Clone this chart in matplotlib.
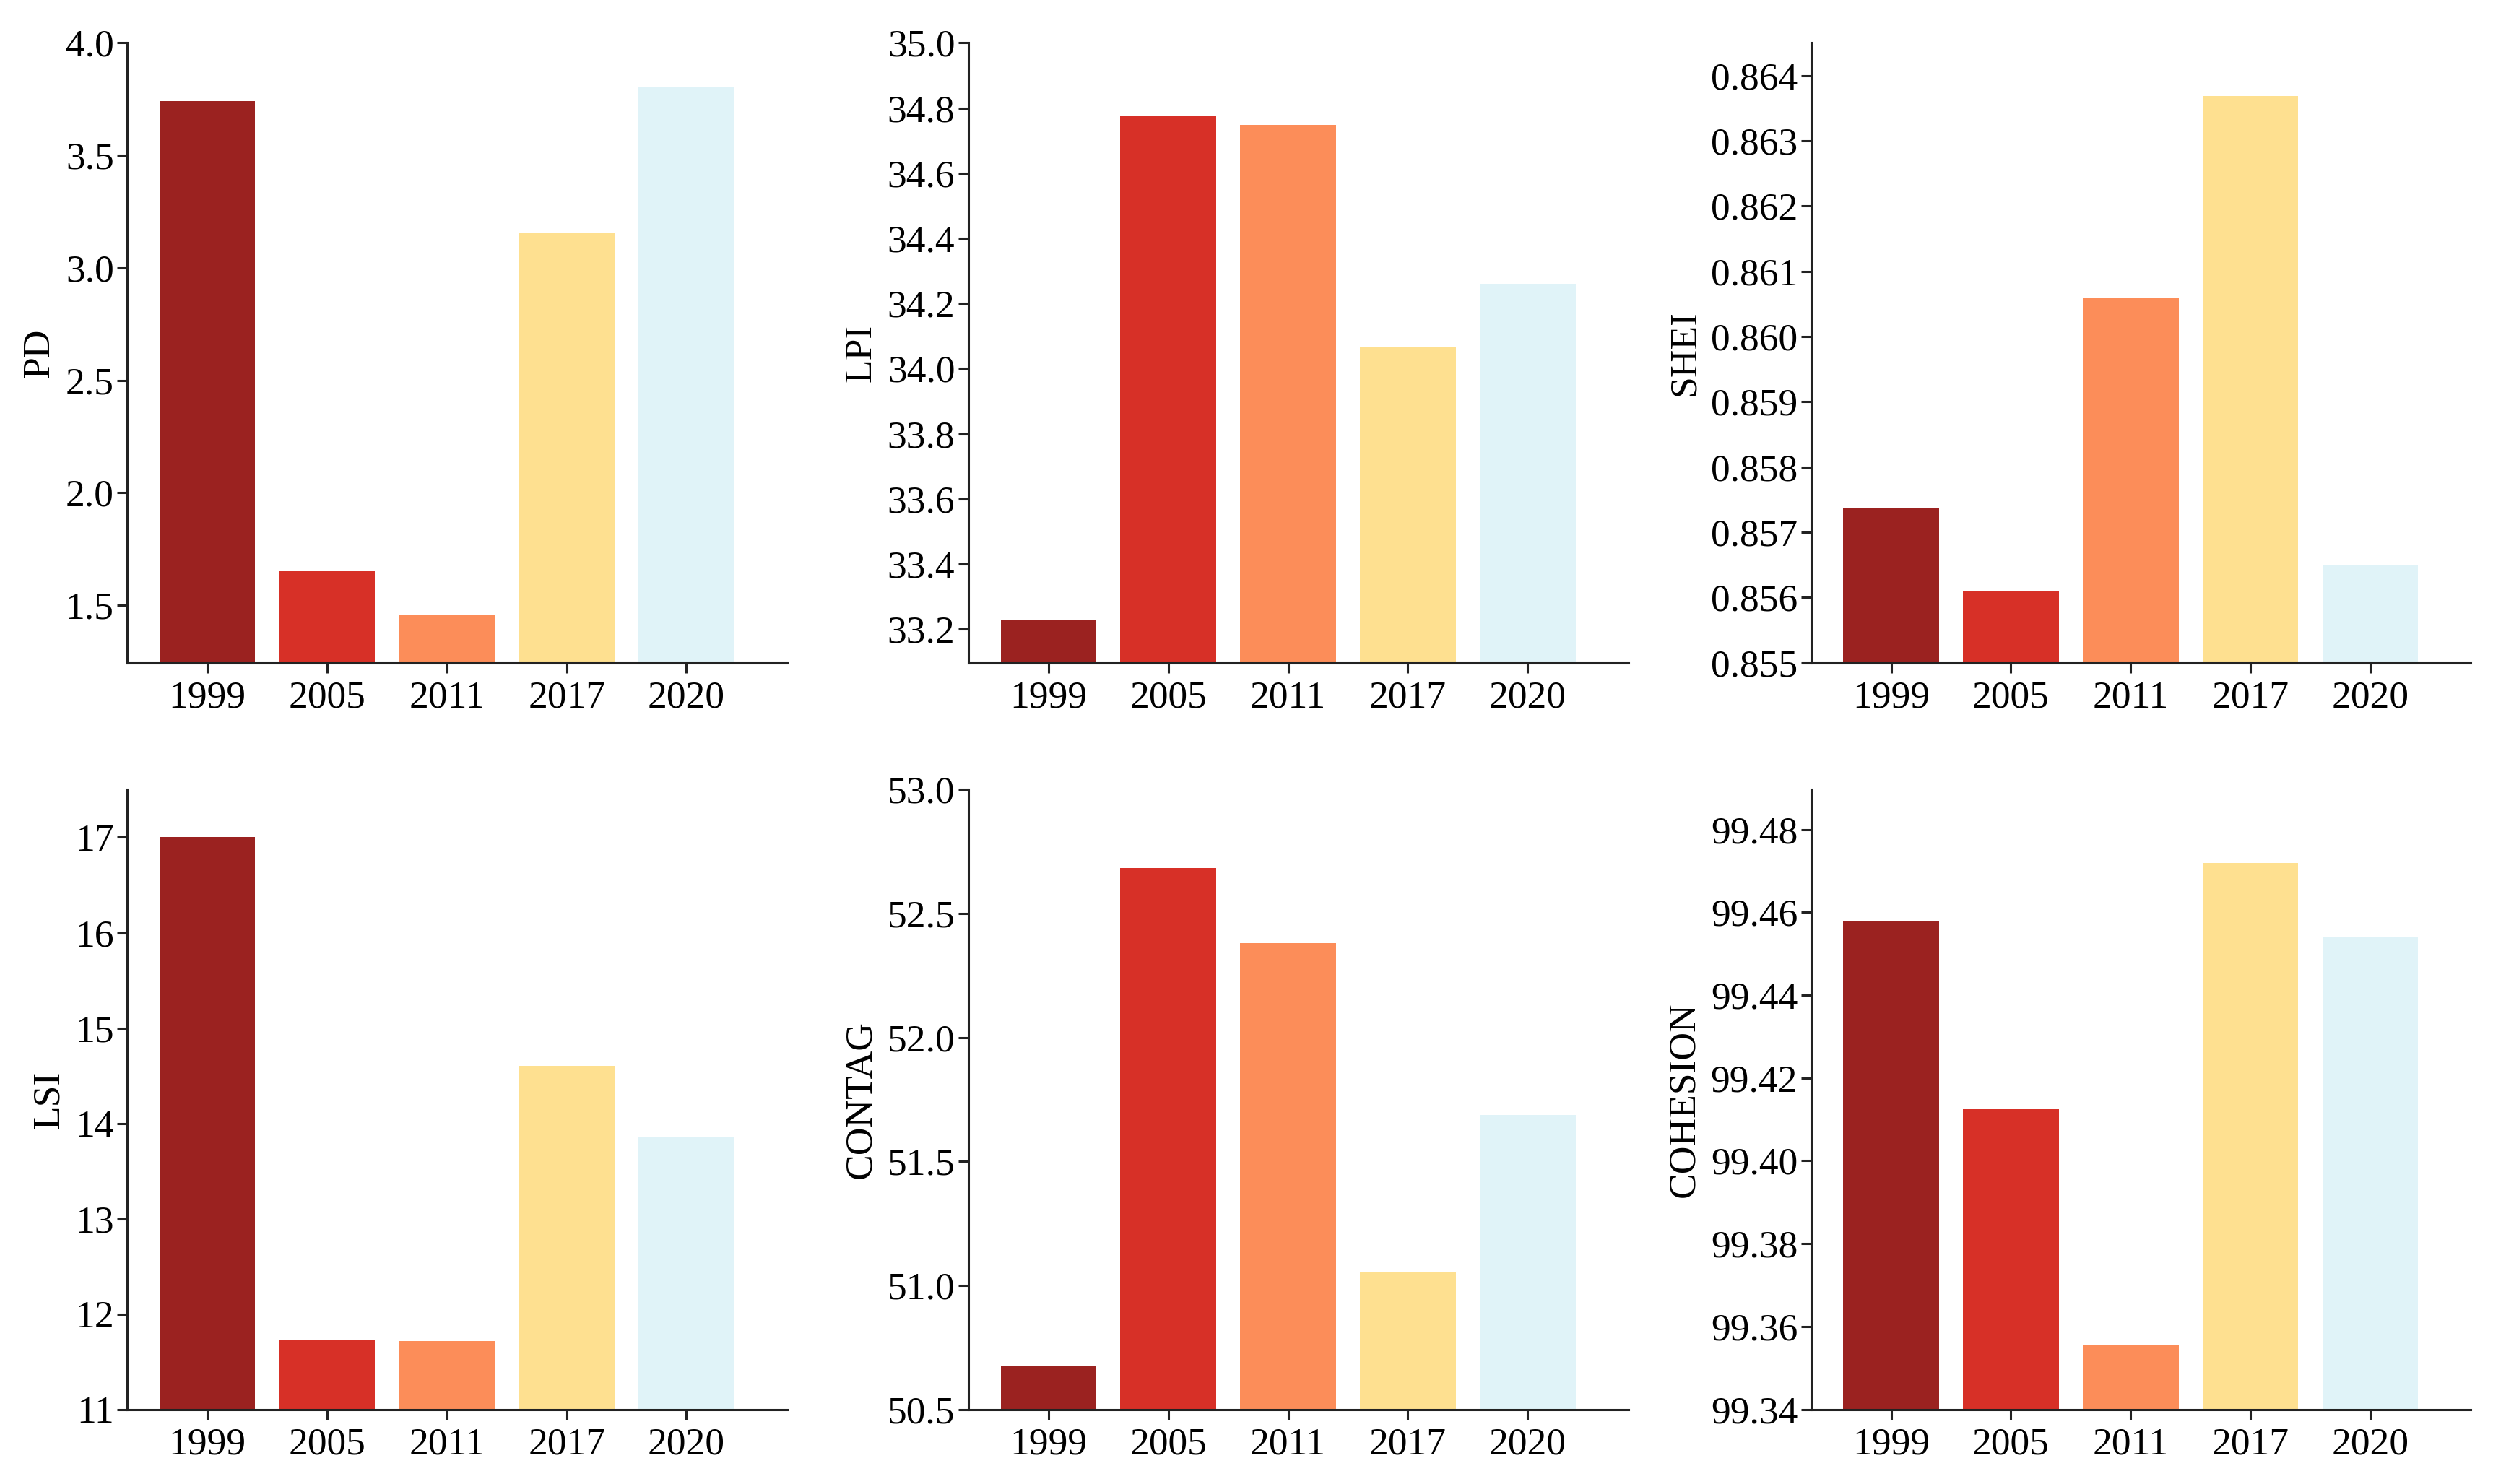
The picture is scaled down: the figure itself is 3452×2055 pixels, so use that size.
#!/usr/bin/env python3
"""Six bar panels of landscape metrics for five years."""

import matplotlib
matplotlib.use('Agg')
from matplotlib import pyplot as plt
from matplotlib.ticker import MultipleLocator, FormatStrFormatter


YEARS = ['1999', '2005', '2011', '2017', '2020']
COLORS = ['#9b2220', '#d73027', '#fc8d59', '#fee090', '#e0f3f8']

PD = [3.74, 1.65, 1.455, 3.155, 3.805]
LPI = [33.23, 34.778, 34.749, 34.068, 34.26]
SHEI = [0.85738, 0.85609, 0.86059, 0.86369, 0.8565]
LSI = [17.0, 11.73, 11.72, 14.60, 13.85]
CONTAG = [50.677, 52.684, 52.381, 51.053, 51.687]
COHESION = [99.458, 99.4124, 99.3554, 99.4719, 99.4539]

# name, values, y limits, tick step, tick format
PANELS = [
    ('PD', PD, (1.245, 4.0), 0.5, '%.1f'),
    ('LPI', LPI, (33.097, 35.0), 0.2, '%.1f'),
    ('SHEI', SHEI, (0.855, 0.8645), 0.001, '%.3f'),
    ('LSI', LSI, (11, 17.5), 1, '%d'),
    ('CONTAG', CONTAG, (50.5, 53.0), 0.5, '%.1f'),
    ('COHESION', COHESION, (99.34, 99.4896), 0.02, '%.2f'),
]


def main():
    """Draw the grid of bar charts."""
    plt.rcParams['font.family'] = ['Liberation Serif', 'DejaVu Serif']
    plt.rcParams['font.size'] = 17.5
    fig = plt.figure(figsize=(3452 / 220, 2055 / 220), dpi=220)

    lefts = [0.051, 0.3884, 0.7264]
    bottoms = [0.5535, 0.0503]
    width, height = 0.2647, 0.4176

    for i, (name, vals, ylim, step, fmt) in enumerate(PANELS):
        ax = fig.add_axes([lefts[i % 3], bottoms[i // 3], width, height])
        x = range(len(YEARS))
        ax.bar(x, vals, width=0.8, color=COLORS, linewidth=0)
        ax.set_xlim(-0.67, 4.84)
        ax.set_ylim(*ylim)
        ax.yaxis.set_major_locator(MultipleLocator(step))
        ax.yaxis.set_major_formatter(FormatStrFormatter(fmt))
        ax.set_xticks(list(x))
        ax.set_xticklabels(YEARS)
        ax.set_ylabel(name, labelpad=4)
        for side in ('top', 'right'):
            ax.spines[side].set_visible(False)
        for side in ('left', 'bottom'):
            ax.spines[side].set_linewidth(1.0)
            ax.spines[side].set_color('#222222')
        ax.tick_params(direction='out', length=4.5, width=1.0,
                       color='#222222', labelsize=17.5, pad=1.5)
        ax.tick_params(axis='x', pad=3.5)

    fig.savefig('out.png', dpi=220)


if __name__ == '__main__':
    main()
